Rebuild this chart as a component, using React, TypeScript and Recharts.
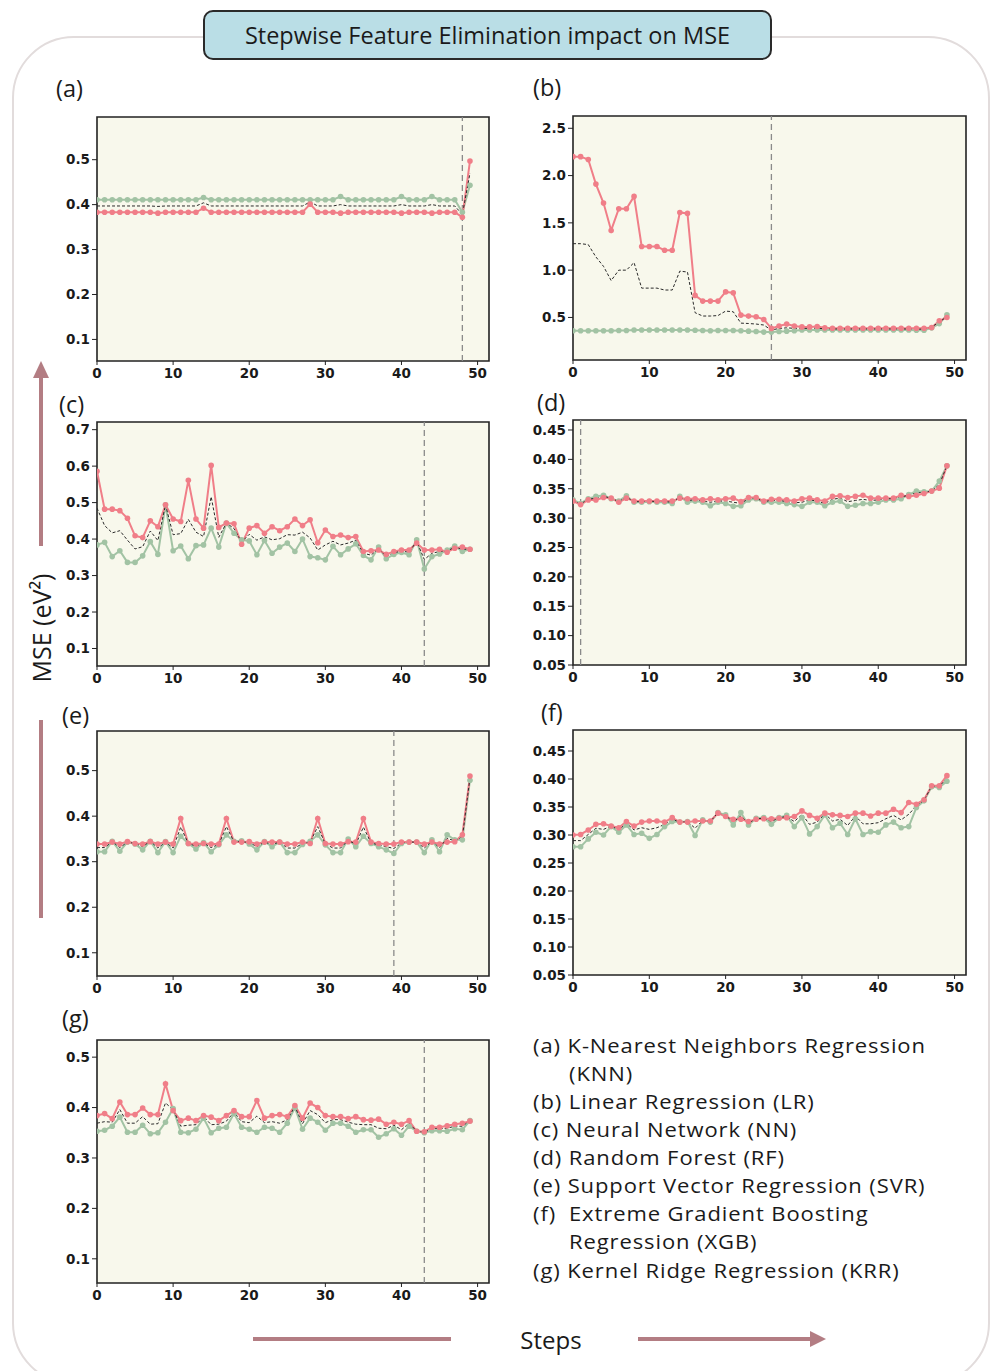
import React from "react";
import {
  LineChart,
  Line,
  XAxis,
  YAxis,
  ReferenceArea,
  ReferenceLine,
} from "recharts";

// ─── Data (MSE per elimination step) ────────────────────────────────

const STEPS = Array.from({ length: 50 }, (_, i) => i);

// (a) KNN
const A_RED = [
  0.383, 0.383, 0.383, 0.383, 0.383, 0.383, 0.383, 0.383, 0.381, 0.383,
  0.383, 0.383, 0.383, 0.383, 0.392, 0.383, 0.383, 0.383, 0.383, 0.383,
  0.383, 0.383, 0.383, 0.383, 0.383, 0.383, 0.383, 0.383, 0.401, 0.383,
  0.383, 0.383, 0.381, 0.383, 0.383, 0.383, 0.383, 0.383, 0.383, 0.383,
  0.381, 0.383, 0.383, 0.383, 0.381, 0.383, 0.383, 0.383, 0.372, 0.497,
];
const A_GREEN = [
  0.411, 0.411, 0.411, 0.411, 0.411, 0.411, 0.411, 0.411, 0.411, 0.411,
  0.411, 0.411, 0.411, 0.411, 0.416, 0.411, 0.411, 0.411, 0.411, 0.411,
  0.411, 0.411, 0.411, 0.411, 0.411, 0.411, 0.411, 0.411, 0.411, 0.411,
  0.411, 0.411, 0.418, 0.411, 0.411, 0.411, 0.411, 0.411, 0.411, 0.411,
  0.418, 0.411, 0.411, 0.411, 0.418, 0.411, 0.411, 0.411, 0.383, 0.443,
];
const A_MEAN = [
  0.397, 0.397, 0.397, 0.397, 0.397, 0.397, 0.397, 0.397, 0.396, 0.397,
  0.397, 0.397, 0.397, 0.397, 0.404, 0.397, 0.397, 0.397, 0.397, 0.397,
  0.397, 0.397, 0.397, 0.397, 0.397, 0.397, 0.397, 0.397, 0.406, 0.397,
  0.397, 0.397, 0.4, 0.397, 0.397, 0.397, 0.397, 0.397, 0.397, 0.397,
  0.4, 0.397, 0.397, 0.397, 0.4, 0.397, 0.397, 0.397, 0.378, 0.47,
];

// (b) LR
const B_RED = [
  2.2, 2.2, 2.17, 1.91, 1.71, 1.42, 1.65, 1.65, 1.78, 1.25,
  1.25, 1.25, 1.21, 1.21, 1.61, 1.6, 0.733, 0.673, 0.673, 0.673,
  0.77, 0.76, 0.525, 0.514, 0.507, 0.479, 0.384, 0.41, 0.43, 0.41,
  0.4, 0.4, 0.405, 0.39, 0.385, 0.385, 0.385, 0.385, 0.385, 0.385,
  0.385, 0.385, 0.385, 0.385, 0.385, 0.385, 0.385, 0.394, 0.465, 0.5,
];
const B_GREEN = [
  0.359, 0.359, 0.359, 0.359, 0.359, 0.359, 0.362, 0.362, 0.368, 0.368,
  0.368, 0.368, 0.368, 0.368, 0.368, 0.368, 0.365, 0.362, 0.36, 0.362,
  0.362, 0.362, 0.36, 0.355, 0.352, 0.345, 0.345, 0.352, 0.355, 0.36,
  0.368, 0.368, 0.368, 0.368, 0.368, 0.368, 0.368, 0.368, 0.368, 0.368,
  0.368, 0.368, 0.368, 0.368, 0.368, 0.365, 0.365, 0.39, 0.435, 0.528,
];
const B_MEAN = [
  1.28, 1.28, 1.27, 1.14, 1.04, 0.89, 1.0, 1.0, 1.08, 0.81,
  0.81, 0.81, 0.79, 0.79, 0.99, 0.98, 0.55, 0.515, 0.515, 0.52,
  0.567, 0.56, 0.44, 0.436, 0.43, 0.42, 0.366, 0.384, 0.39, 0.385,
  0.384, 0.384, 0.386, 0.38, 0.378, 0.378, 0.378, 0.378, 0.378, 0.378,
  0.378, 0.378, 0.378, 0.378, 0.378, 0.376, 0.376, 0.4, 0.45, 0.51,
];

// (c) NN
const C_RED = [
  0.586, 0.482, 0.482, 0.478, 0.457, 0.409, 0.404, 0.45, 0.434, 0.494,
  0.455, 0.448, 0.561, 0.455, 0.43, 0.602, 0.432, 0.444, 0.442, 0.386,
  0.43, 0.437, 0.416, 0.434, 0.423, 0.434, 0.455, 0.437, 0.453, 0.39,
  0.425, 0.407, 0.411, 0.404, 0.407, 0.366, 0.368, 0.37, 0.358, 0.366,
  0.37, 0.37, 0.389, 0.37, 0.37, 0.372, 0.364, 0.375, 0.378, 0.372,
];
const C_GREEN = [
  0.384, 0.391, 0.352, 0.368, 0.336, 0.336, 0.354, 0.393, 0.358, 0.494,
  0.368, 0.381, 0.346, 0.382, 0.384, 0.43, 0.378, 0.444, 0.416, 0.398,
  0.395, 0.357, 0.396, 0.361, 0.378, 0.389, 0.366, 0.4, 0.352, 0.349,
  0.343, 0.38, 0.357, 0.373, 0.387, 0.355, 0.343, 0.378, 0.346, 0.358,
  0.363, 0.357, 0.398, 0.318, 0.352, 0.359, 0.37, 0.381, 0.366, 0.372,
];
const C_MEAN = [
  0.485, 0.437, 0.417, 0.423, 0.397, 0.373, 0.379, 0.422, 0.396, 0.494,
  0.412, 0.415, 0.454, 0.419, 0.407, 0.516, 0.405, 0.444, 0.429, 0.392,
  0.413, 0.397, 0.406, 0.398, 0.401, 0.412, 0.411, 0.419, 0.403, 0.37,
  0.384, 0.394, 0.384, 0.389, 0.397, 0.361, 0.356, 0.374, 0.352, 0.362,
  0.367, 0.364, 0.394, 0.344, 0.361, 0.366, 0.367, 0.378, 0.372, 0.372,
];

// (d) RF
const D_RED = [
  0.329, 0.323, 0.331, 0.331, 0.335, 0.334, 0.327, 0.334, 0.329, 0.329,
  0.329, 0.329, 0.329, 0.329, 0.334, 0.333, 0.333, 0.331, 0.333, 0.331,
  0.333, 0.334, 0.328, 0.335, 0.335, 0.329, 0.332, 0.332, 0.331, 0.329,
  0.333, 0.334, 0.331, 0.329, 0.337, 0.338, 0.335, 0.337, 0.339, 0.334,
  0.334, 0.334, 0.334, 0.339, 0.337, 0.339, 0.342, 0.346, 0.351, 0.389,
];
const D_GREEN = [
  0.331, 0.325, 0.333, 0.337, 0.339, 0.333, 0.329, 0.338, 0.327, 0.327,
  0.328, 0.327, 0.327, 0.325, 0.337, 0.327, 0.329, 0.327, 0.321, 0.327,
  0.325, 0.32, 0.321, 0.331, 0.333, 0.327, 0.327, 0.327, 0.325, 0.323,
  0.32, 0.327, 0.327, 0.321, 0.327, 0.329, 0.32, 0.322, 0.325, 0.325,
  0.327, 0.331, 0.331, 0.333, 0.34, 0.346, 0.345, 0.346, 0.363, 0.389,
];
const D_MEAN = [
  0.33, 0.324, 0.332, 0.334, 0.337, 0.334, 0.328, 0.336, 0.328, 0.328,
  0.329, 0.328, 0.328, 0.327, 0.336, 0.33, 0.331, 0.329, 0.327, 0.329,
  0.329, 0.327, 0.325, 0.333, 0.334, 0.328, 0.33, 0.33, 0.328, 0.326,
  0.327, 0.331, 0.329, 0.325, 0.332, 0.334, 0.328, 0.33, 0.332, 0.33,
  0.331, 0.333, 0.333, 0.336, 0.339, 0.343, 0.344, 0.346, 0.357, 0.389,
];

// (e) SVR
const E_RED = [
  0.339, 0.339, 0.343, 0.339, 0.344, 0.34, 0.339, 0.344, 0.339, 0.343,
  0.339, 0.395, 0.34, 0.339, 0.34, 0.339, 0.339, 0.395, 0.343, 0.343,
  0.344, 0.339, 0.343, 0.343, 0.343, 0.339, 0.339, 0.343, 0.34, 0.395,
  0.34, 0.339, 0.339, 0.344, 0.343, 0.395, 0.343, 0.34, 0.339, 0.339,
  0.343, 0.343, 0.343, 0.339, 0.343, 0.339, 0.343, 0.344, 0.359, 0.488,
];
const E_GREEN = [
  0.322, 0.322, 0.345, 0.323, 0.343, 0.339, 0.326, 0.345, 0.32, 0.344,
  0.32, 0.356, 0.34, 0.328, 0.342, 0.322, 0.337, 0.359, 0.345, 0.346,
  0.339, 0.326, 0.344, 0.333, 0.343, 0.32, 0.32, 0.338, 0.345, 0.359,
  0.337, 0.32, 0.32, 0.35, 0.333, 0.356, 0.34, 0.333, 0.326, 0.318,
  0.34, 0.343, 0.343, 0.32, 0.348, 0.322, 0.359, 0.348, 0.348, 0.479,
];
const E_MEAN = [
  0.331, 0.331, 0.344, 0.331, 0.343, 0.34, 0.333, 0.345, 0.33, 0.343,
  0.33, 0.376, 0.34, 0.334, 0.341, 0.331, 0.338, 0.377, 0.344, 0.344,
  0.342, 0.333, 0.343, 0.338, 0.343, 0.33, 0.33, 0.34, 0.343, 0.377,
  0.339, 0.33, 0.33, 0.347, 0.338, 0.376, 0.341, 0.337, 0.333, 0.329,
  0.341, 0.343, 0.343, 0.33, 0.345, 0.331, 0.351, 0.346, 0.354, 0.484,
];

// (f) XGB
const F_RED = [
  0.3, 0.301, 0.309, 0.319, 0.32, 0.316, 0.313, 0.324, 0.316, 0.323,
  0.325, 0.325, 0.323, 0.331, 0.323, 0.323, 0.325, 0.325, 0.325, 0.339,
  0.333, 0.328, 0.328, 0.324, 0.328, 0.329, 0.329, 0.33, 0.331, 0.333,
  0.343, 0.335, 0.33, 0.339, 0.336, 0.335, 0.333, 0.339, 0.339, 0.334,
  0.339, 0.339, 0.346, 0.34, 0.358, 0.355, 0.363, 0.388, 0.388, 0.406,
];
const F_GREEN = [
  0.279, 0.279, 0.293, 0.305, 0.3, 0.315, 0.305, 0.318, 0.301, 0.303,
  0.294, 0.301, 0.315, 0.324, 0.323, 0.324, 0.299, 0.327, 0.323, 0.34,
  0.336, 0.318, 0.34, 0.318, 0.33, 0.331, 0.319, 0.331, 0.335, 0.315,
  0.331, 0.302, 0.315, 0.336, 0.313, 0.321, 0.301, 0.329, 0.301, 0.306,
  0.305, 0.318, 0.323, 0.313, 0.315, 0.349, 0.361, 0.386, 0.385, 0.396,
];
const F_MEAN = [
  0.29, 0.29, 0.301, 0.312, 0.31, 0.316, 0.309, 0.321, 0.309, 0.313,
  0.31, 0.313, 0.319, 0.328, 0.323, 0.324, 0.312, 0.326, 0.324, 0.34,
  0.335, 0.323, 0.334, 0.321, 0.329, 0.33, 0.324, 0.331, 0.333, 0.324,
  0.337, 0.319, 0.323, 0.338, 0.325, 0.328, 0.317, 0.334, 0.32, 0.32,
  0.322, 0.329, 0.335, 0.327, 0.337, 0.352, 0.362, 0.387, 0.387, 0.401,
];

// (g) KRR
const G_RED = [
  0.384, 0.388, 0.378, 0.411, 0.386, 0.386, 0.399, 0.386, 0.386, 0.447,
  0.394, 0.374, 0.379, 0.374, 0.384, 0.381, 0.374, 0.384, 0.394, 0.382,
  0.382, 0.414, 0.379, 0.384, 0.386, 0.382, 0.404, 0.379, 0.409, 0.4,
  0.384, 0.382, 0.382, 0.378, 0.382, 0.376, 0.375, 0.377, 0.367, 0.371,
  0.367, 0.374, 0.353, 0.352, 0.361, 0.361, 0.364, 0.367, 0.369, 0.373,
];
const G_GREEN = [
  0.353, 0.355, 0.363, 0.381, 0.351, 0.351, 0.365, 0.348, 0.35, 0.371,
  0.398, 0.351, 0.35, 0.357, 0.379, 0.35, 0.359, 0.361, 0.388, 0.361,
  0.357, 0.351, 0.361, 0.359, 0.351, 0.369, 0.4, 0.357, 0.379, 0.371,
  0.355, 0.369, 0.369, 0.363, 0.351, 0.356, 0.356, 0.341, 0.348, 0.358,
  0.345, 0.363, 0.353, 0.35, 0.354, 0.354, 0.353, 0.358, 0.356, 0.374,
];
const G_MEAN = [
  0.369, 0.372, 0.371, 0.396, 0.369, 0.369, 0.382, 0.367, 0.368, 0.409,
  0.396, 0.363, 0.365, 0.366, 0.382, 0.366, 0.367, 0.373, 0.391, 0.372,
  0.37, 0.383, 0.37, 0.372, 0.369, 0.376, 0.402, 0.368, 0.394, 0.386,
  0.37, 0.376, 0.376, 0.371, 0.367, 0.366, 0.366, 0.359, 0.358, 0.365,
  0.356, 0.369, 0.353, 0.351, 0.358, 0.358, 0.359, 0.363, 0.363, 0.374,
];

const X_TICKS = [0, 10, 20, 30, 40, 50];
const TICKS_01 = [0.1, 0.2, 0.3, 0.4, 0.5];
const TICKS_01_07 = [0.1, 0.2, 0.3, 0.4, 0.5, 0.6, 0.7];
const TICKS_05 = [0.05, 0.1, 0.15, 0.2, 0.25, 0.3, 0.35, 0.4, 0.45];
const TICKS_LR = [0.5, 1.0, 1.5, 2.0, 2.5];

const LEGEND_LINES: [number, number, string][] = [
  [533, 1045, "(a) K-Nearest Neighbors Regression"],
  [569, 1073, "(KNN)"],
  [533, 1101, "(b) Linear Regression (LR)"],
  [533, 1129, "(c) Neural Network (NN)"],
  [533, 1157, "(d) Random Forest (RF)"],
  [533, 1185, "(e) Support Vector Regression (SVR)"],
  [533, 1213, "(f)"],
  [569, 1213, "Extreme Gradient Boosting"],
  [569, 1241, "Regression (XGB)"],
  [533, 1270, "(g) Kernel Ridge Regression (KRR)"],
];

// ─── Style ──────────────────────────────────────────────────────────

const RED = "#f07e88";
const GREEN = "#a2c3a4";
const ARROW = "#b37d83";
const X_MAX = 51.5;
const SANS = "'Open Sans', 'Noto Sans', sans-serif";
const TICK_STYLE = {
  fontFamily: "DejaVu Sans",
  fontWeight: 700,
  fontSize: 13.5,
  fill: "#1a1a1a",
};

interface PanelProps {
  red: number[];
  green: number[];
  mean: number[];
  cut?: number;
  yDomain: [number, number];
  yTicks: number[];
  digits: number;
  left: number;
  top: number;
  right: number;
  bottom: number;
}

// ─── Subplot ────────────────────────────────────────────────────────

function Panel({
  red,
  green,
  mean,
  cut,
  yDomain,
  yTicks,
  digits,
  left,
  top,
  right,
  bottom,
}: PanelProps) {
  const data = STEPS.map((s, i) => ({
    step: s,
    red: red[i],
    green: green[i],
    mean: mean[i],
  }));
  const plotW = right - left;
  const plotH = bottom - top;

  return (
    <div style={{ position: "absolute", left: left - 50, top: top - 5 }}>
      <LineChart
        width={plotW + 55}
        height={plotH + 35}
        data={data}
        margin={{ top: 5, right: 5, left: 0, bottom: 0 }}
      >
        <XAxis
          dataKey="step"
          type="number"
          domain={[0, X_MAX]}
          ticks={X_TICKS}
          allowDataOverflow
          height={30}
          tick={TICK_STYLE}
          tickSize={4}
          tickMargin={3}
          axisLine={false}
          tickLine={{ stroke: "#222" }}
        />
        <YAxis
          type="number"
          domain={yDomain}
          ticks={yTicks}
          allowDataOverflow
          width={50}
          tick={TICK_STYLE}
          tickSize={5}
          tickMargin={2}
          axisLine={false}
          tickLine={{ stroke: "#222" }}
          tickFormatter={(v: number) => v.toFixed(digits)}
        />
        <ReferenceArea
          x1={0}
          x2={X_MAX}
          y1={yDomain[0]}
          y2={yDomain[1]}
          fill="#f8f8ec"
          fillOpacity={1}
          stroke="#222"
          strokeWidth={1.6}
        />
        {cut !== undefined && (
          <ReferenceLine
            x={cut}
            stroke="#8a8a8a"
            strokeWidth={1.3}
            strokeDasharray="6 4"
          />
        )}
        <Line
          type="linear"
          dataKey="green"
          stroke={GREEN}
          strokeWidth={2}
          dot={{ r: 2.8, fill: GREEN, stroke: GREEN, strokeWidth: 0 }}
          isAnimationActive={false}
        />
        <Line
          type="linear"
          dataKey="red"
          stroke={RED}
          strokeWidth={2}
          dot={{ r: 2.8, fill: RED, stroke: RED, strokeWidth: 0 }}
          isAnimationActive={false}
        />
        <Line
          type="linear"
          dataKey="mean"
          stroke="#2a2a2a"
          strokeWidth={1}
          strokeDasharray="3 2"
          dot={false}
          isAnimationActive={false}
        />
      </LineChart>
    </div>
  );
}

function Label({ x, cy, text, size = 23.5 }: { x: number; cy: number; text: string; size?: number }) {
  return (
    <div
      style={{
        position: "absolute",
        left: x,
        top: cy - 13,
        height: 26,
        lineHeight: "26px",
        fontFamily: SANS,
        fontSize: size,
        color: "#1a1a1a",
        whiteSpace: "nowrap",
      }}
    >
      {text}
    </div>
  );
}

// legend rows are tightly stacked (28px apart), so the glyphs are
// squeezed a little vertically to keep line boxes from touching
function LegendLine({ x, cy, text }: { x: number; cy: number; text: string }) {
  return (
    <div
      style={{
        position: "absolute",
        left: x,
        top: cy - 13,
        height: 26,
        lineHeight: "26px",
        fontFamily: SANS,
        fontSize: 22,
        letterSpacing: 0.9,
        transform: "scaleY(0.92)",
        transformOrigin: "left center",
        color: "#1a1a1a",
        whiteSpace: "nowrap",
      }}
    >
      {text}
    </div>
  );
}

// ─── Figure ─────────────────────────────────────────────────────────

export default function App() {
  return (
    <div
      style={{
        position: "absolute",
        left: 0,
        top: 0,
        width: 995,
        height: 1371,
        background: "#fff",
        overflow: "hidden",
      }}
    >
      {/* outer rounded frame */}
      <div
        style={{
          position: "absolute",
          left: 12,
          top: 36,
          width: 974,
          height: 1345,
          border: "2px solid #e2dcdc",
          borderRadius: 62,
        }}
      />

      {/* title box */}
      <div
        style={{
          position: "absolute",
          left: 203,
          top: 10,
          width: 565,
          height: 46,
          background: "#badee6",
          border: "2px solid #2a2a2a",
          borderRadius: 10,
          display: "flex",
          alignItems: "center",
          justifyContent: "center",
          fontFamily: SANS,
          fontSize: 23.5,
          color: "#1a1a1a",
        }}
      >
        Stepwise Feature Elimination impact on MSE
      </div>

      {/* axis arrows and titles */}
      <svg
        width={995}
        height={1371}
        style={{ position: "absolute", left: 0, top: 0, pointerEvents: "none" }}
      >
        <line x1={41} y1={546} x2={41} y2={376} stroke={ARROW} strokeWidth={4} />
        <polygon points="41,361 33,378 49,378" fill={ARROW} />
        <line x1={41} y1={720} x2={41} y2={918} stroke={ARROW} strokeWidth={4} />
        <line x1={253} y1={1339} x2={451} y2={1339} stroke={ARROW} strokeWidth={4} />
        <line x1={638} y1={1339} x2={812} y2={1339} stroke={ARROW} strokeWidth={4} />
        <polygon points="826,1339 810,1331 810,1347" fill={ARROW} />
        <text
          x={41}
          y={628}
          transform="rotate(-90 41 628)"
          textAnchor="middle"
          dominantBaseline="central"
          fontFamily={SANS}
          fontSize={25}
          fill="#1a1a1a"
        >
          MSE (eV²)
        </text>
        <text
          x={551}
          y={1339}
          textAnchor="middle"
          dominantBaseline="central"
          fontFamily={SANS}
          fontSize={24}
          fill="#1a1a1a"
        >
          Steps
        </text>
      </svg>

      <Label x={56} cy={88} text="(a)" />
      <Label x={533} cy={87} text="(b)" />
      <Label x={59} cy={404} text="(c)" />
      <Label x={537} cy={402} text="(d)" />
      <Label x={62} cy={715} text="(e)" />
      <Label x={541} cy={712} text="(f)" />
      <Label x={62} cy={1018} text="(g)" />

      <Panel red={A_RED} green={A_GREEN} mean={A_MEAN} cut={48}
        yDomain={[0.052, 0.595]} yTicks={TICKS_01} digits={1}
        left={97} top={117} right={489} bottom={361} />
      <Panel red={B_RED} green={B_GREEN} mean={B_MEAN} cut={26}
        yDomain={[0.05, 2.63]} yTicks={TICKS_LR} digits={1}
        left={573} top={116} right={966} bottom={360} />
      <Panel red={C_RED} green={C_GREEN} mean={C_MEAN} cut={43}
        yDomain={[0.052, 0.721]} yTicks={TICKS_01_07} digits={1}
        left={97} top={422} right={489} bottom={666} />
      <Panel red={D_RED} green={D_GREEN} mean={D_MEAN} cut={1}
        yDomain={[0.05, 0.467]} yTicks={TICKS_05} digits={2}
        left={573} top={420} right={966} bottom={665} />
      <Panel red={E_RED} green={E_GREEN} mean={E_MEAN} cut={39}
        yDomain={[0.049, 0.587]} yTicks={TICKS_01} digits={1}
        left={97} top={731} right={489} bottom={976} />
      <Panel red={F_RED} green={F_GREEN} mean={F_MEAN}
        yDomain={[0.05, 0.4875]} yTicks={TICKS_05} digits={2}
        left={573} top={730} right={966} bottom={975} />
      <Panel red={G_RED} green={G_GREEN} mean={G_MEAN} cut={43}
        yDomain={[0.052, 0.534]} yTicks={TICKS_01} digits={1}
        left={97} top={1040} right={489} bottom={1283} />

      {LEGEND_LINES.map(([x, cy, text], i) => (
        <LegendLine key={i} x={x} cy={cy} text={text} />
      ))}
    </div>
  );
}
